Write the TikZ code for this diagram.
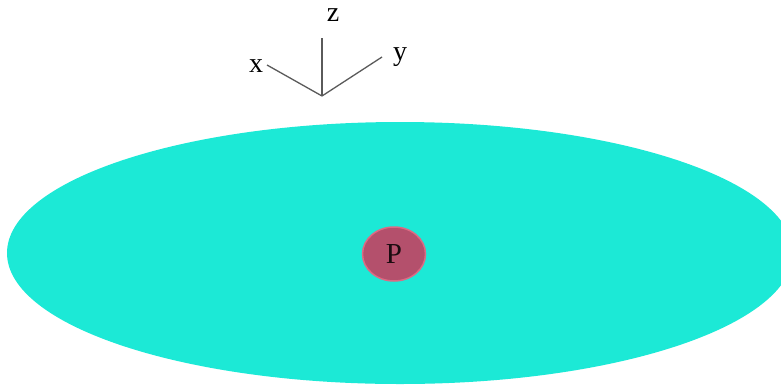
\documentclass[tikz,border=0pt]{standalone}
\usepackage{fontspec}
\setmainfont{Liberation Serif}
\usetikzlibrary{shapes.geometric}
\definecolor{disc}{HTML}{1CE9D6}
\definecolor{pfill}{HTML}{B4506C}
\definecolor{pedge}{HTML}{DC6A84}
\definecolor{axisgray}{HTML}{5A5A5A}
\tikzset{
  axisline/.style={draw=axisgray, line width=1.3pt},
  axislabel/.style={font=\fontsize{28}{28}\selectfont, text=black, inner sep=0pt},
}
\begin{document}
\begin{tikzpicture}[x=1pt,y=-1pt]
\useasboundingbox (0,0) rectangle (781,386);
\node[ellipse, fill=disc, minimum width=786, minimum height=262, inner sep=0pt] (disc) at (400,253) {};
\node[ellipse, fill=pfill, draw=pedge, line width=1.5pt, minimum width=63, minimum height=54, inner sep=0pt, font=\fontsize{29}{29}\selectfont, text=black!85!pfill] (P) at (394,254) {P};
\coordinate (O) at (322,96);
\coordinate (zt) at (322,38);
\coordinate (xt) at (267,65);
\coordinate (yt) at (382,57);
\draw[axisline] (O) -- (zt);
\draw[axisline] (O) -- (xt);
\draw[axisline] (O) -- (yt);
\node[axislabel] (zl) at (333,15) {z};
\node[axislabel] (xl) at (256,66) {x};
\node[axislabel] (yl) at (400,57) {y};
\end{tikzpicture}
\end{document}
